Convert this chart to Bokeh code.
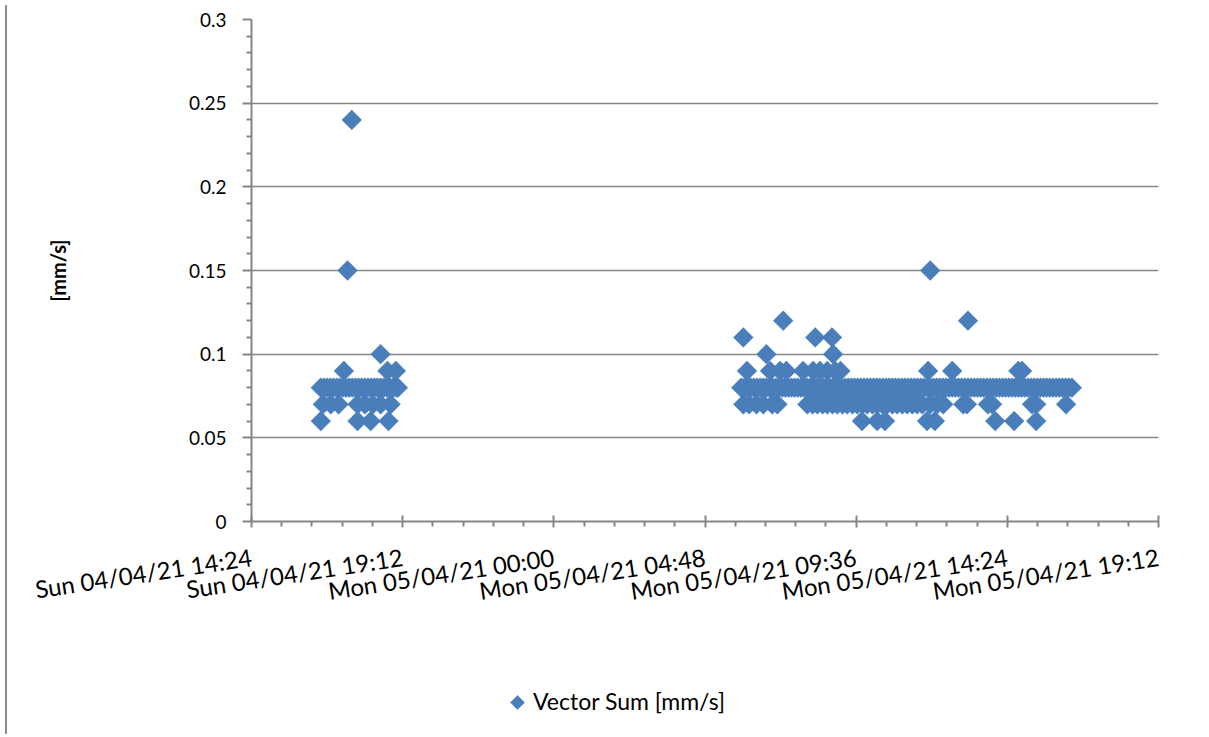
import math
import pandas as pd
from bokeh.plotting import figure
from bokeh.models import (FixedTicker, Legend, LegendItem, Div, Range1d,
                          ColumnDataSource)
from bokeh.layouts import row, column
from bokeh.embed import file_html
from bokeh.resources import INLINE

# ---------------- data ----------------
x_tick_times = ["2021-04-04 14:24", "2021-04-04 19:12", "2021-04-05 00:00",
                "2021-04-05 04:48", "2021-04-05 09:36", "2021-04-05 14:24",
                "2021-04-05 19:12"]
x_tick_labels = ["Sun 04/04/21 14:24", "Sun 04/04/21 19:12", "Mon 05/04/21 00:00",
                 "Mon 05/04/21 04:48", "Mon 05/04/21 09:36", "Mon 05/04/21 14:24",
                 "Mon 05/04/21 19:12"]
y_ticks = [0, 0.05, 0.1, 0.15, 0.2, 0.25, 0.3]
y_tick_labels = ["0", "0.05", "0.1", "0.15", "0.2", "0.25", "0.3"]
series_name = "Vector Sum [mm/s]"
y_axis_title = "[mm/s]"

sun_date = "2021-04-04"
mon_date = "2021-04-05"

# Sunday readings, grouped by value [mm/s]
sun_080 = ["16:36", "16:42", "16:48", "16:54", "17:00", "17:06", "17:12", "17:18",
           "17:24", "17:30", "17:36", "17:42", "17:48", "17:54", "18:00", "18:06",
           "18:12", "18:18", "18:24", "18:30", "18:36", "18:42", "18:48", "18:54",
           "19:00", "19:03"]
sun_070 = ["16:40", "16:55", "17:10", "17:46", "18:00", "18:15", "18:30", "18:49"]
sun_060 = ["16:36", "17:46", "18:11", "18:45"]
sun_090 = ["17:20", "18:43", "18:59"]
sun_100 = ["18:30"]
sun_150 = ["17:27"]
sun_240 = ["17:35"]

# Monday readings, grouped by value [mm/s]
mon_080 = ["05:57",
           "06:03", "06:09", "06:15", "06:21", "06:27", "06:33", "06:39", "06:45", "06:51", "06:57",
           "07:03", "07:09", "07:15", "07:21", "07:27", "07:33", "07:39", "07:45", "07:51", "07:57",
           "08:03", "08:09", "08:15", "08:21", "08:27", "08:33", "08:39", "08:45", "08:51", "08:57",
           "09:03", "09:09", "09:15", "09:21", "09:27", "09:33", "09:39", "09:45", "09:51", "09:57",
           "10:03", "10:09", "10:15", "10:21", "10:27", "10:33", "10:39", "10:45", "10:51", "10:57",
           "11:03", "11:09", "11:15", "11:21", "11:27", "11:33", "11:39", "11:45", "11:51", "11:57",
           "12:03", "12:09", "12:15", "12:21", "12:27", "12:33", "12:39", "12:45", "12:51", "12:57",
           "13:03", "13:09", "13:15", "13:21", "13:27", "13:33", "13:39", "13:45", "13:51", "13:57",
           "14:03", "14:09", "14:15", "14:21", "14:27", "14:33", "14:39", "14:45", "14:51", "14:57",
           "15:03", "15:09", "15:15", "15:21", "15:27", "15:33", "15:39", "15:45", "15:51", "15:57",
           "16:03", "16:09", "16:15", "16:21", "16:27"]
mon_070 = ["06:01", "06:12", "06:26", "06:39", "06:56", "07:06", "08:03", "08:13",
           "08:22", "08:32", "08:41", "08:51", "09:00", "09:10", "09:19", "09:29",
           "09:38", "09:48", "09:57", "10:07", "10:16", "10:26", "10:35", "10:45",
           "10:54", "11:04", "11:13", "11:23", "11:32", "11:42", "11:57", "12:10",
           "12:22", "13:00", "13:07", "13:47", "13:55", "15:11", "15:19", "16:16"]
mon_060 = ["09:47", "10:16", "10:31", "11:51", "12:06", "14:01", "14:37", "15:19"]
mon_090 = ["06:08", "06:52", "07:11", "07:23", "07:55", "08:14", "08:27", "08:41",
           "08:56", "09:06", "11:53", "12:39", "14:45", "14:52"]
mon_100 = ["06:45", "08:52"]
mon_110 = ["06:01", "08:18", "08:50"]
mon_120 = ["07:17", "13:09"]
mon_150 = ["11:57"]

groups = [
    (sun_date, 0.08, sun_080), (sun_date, 0.07, sun_070), (sun_date, 0.06, sun_060),
    (sun_date, 0.09, sun_090), (sun_date, 0.10, sun_100), (sun_date, 0.15, sun_150),
    (sun_date, 0.24, sun_240),
    (mon_date, 0.08, mon_080), (mon_date, 0.07, mon_070), (mon_date, 0.06, mon_060),
    (mon_date, 0.09, mon_090), (mon_date, 0.10, mon_100), (mon_date, 0.11, mon_110),
    (mon_date, 0.12, mon_120), (mon_date, 0.15, mon_150),
]

xs, ys = [], []
for d, v, times in groups:
    for t in times:
        xs.append(pd.Timestamp(f"{d} {t}"))
        ys.append(v)
source = ColumnDataSource(dict(x=xs, y=ys))

# ---------------- styling ----------------
FONT = "Lato"
GREY = "#868686"
BLUE = "#4A7EBB"
W = 1191
H_MAIN = 680
H_LEG = 49
FRAME_W = 907

tick_ms = [float(pd.Timestamp(t).value // 10**6) for t in x_tick_times]
minor_ms = []
for a, b in zip(tick_ms[:-1], tick_ms[1:]):
    step = (b - a) / 5
    minor_ms += [a + k * step for k in range(1, 5)]
y_minor = [round(k * 0.01, 2) for k in range(31) if k % 5]

p = figure(width=W, height=H_MAIN, x_axis_type="datetime",
           output_backend="svg", toolbar_location=None,
           x_range=Range1d(tick_ms[0], tick_ms[-1]), y_range=Range1d(0, 0.3),
           min_border_left=239, min_border_right=W - 239 - FRAME_W,
           min_border_top=19, min_border_bottom=H_MAIN - 19 - 502)
p.outline_line_color = None
p.background_fill_color = "white"
p.border_fill_color = "white"

marker_kw = dict(marker="square", angle=math.pi / 4, fill_color=BLUE,
                 line_color=BLUE, line_width=0.5)
r = p.scatter("x", "y", source=source, size=14, **marker_kw)

xa = p.xaxis[0]
xa.ticker = FixedTicker(ticks=tick_ms, minor_ticks=minor_ms)
xa.major_label_overrides = {ms: lab for ms, lab in zip(tick_ms, x_tick_labels)}
xa.major_label_orientation = 0.15
xa.axis_line_color = GREY
xa.axis_line_width = 2
xa.major_tick_line_color = GREY
xa.major_tick_line_width = 2
xa.major_tick_in = 6
xa.major_tick_out = 6
xa.minor_tick_line_color = GREY
xa.minor_tick_line_width = 2
xa.minor_tick_in = 0
xa.minor_tick_out = 5
xa.major_label_text_font = FONT
xa.major_label_text_font_size = "24px"
xa.major_label_text_color = "black"
xa.major_label_standoff = 29

ya = p.yaxis[0]
ya.ticker = FixedTicker(ticks=y_ticks, minor_ticks=y_minor)
ya.major_label_overrides = {v: lab for v, lab in zip(y_ticks, y_tick_labels)}
ya.axis_line_color = GREY
ya.axis_line_width = 2
ya.major_tick_line_color = GREY
ya.major_tick_line_width = 2
ya.major_tick_in = 0
ya.major_tick_out = 9
ya.minor_tick_line_color = GREY
ya.minor_tick_line_width = 2
ya.minor_tick_in = 0
ya.minor_tick_out = 5
ya.major_label_text_font = FONT
ya.major_label_text_font_size = "19px"
ya.major_label_text_color = "black"
ya.major_label_standoff = 16
ya.axis_label = y_axis_title
ya.axis_label_text_font = FONT
ya.axis_label_text_font_style = "bold"
ya.axis_label_text_font_size = "20px"
ya.axis_label_text_color = "black"
ya.axis_label_standoff = 116

p.xgrid.visible = False
p.ygrid.grid_line_color = GREY
p.ygrid.grid_line_width = 1.5

# legend strip below the chart (its frame is aligned with the chart's frame,
# and its ranges are in pixels of that frame)
lg = figure(width=W, height=H_LEG, output_backend="svg", toolbar_location=None,
            x_range=Range1d(0, FRAME_W), y_range=Range1d(0, H_LEG),
            x_axis_location=None, y_axis_location=None,
            min_border_left=0, min_border_right=0, min_border_top=0,
            min_border_bottom=0)
lg.outline_line_color = None
lg.xgrid.visible = False
lg.ygrid.visible = False
# transparent legend entry (keeps the label), plus the rotated-square key symbol
key = lg.scatter(x=[-50], y=[-50], size=14, marker="square",
                 fill_alpha=0, line_alpha=0)
lg.scatter(x=[266], y=[27], size=10, **marker_kw)
legend = Legend(items=[LegendItem(label=series_name, renderers=[key])],
                location=(256, 14), orientation="horizontal",
                border_line_color=None, background_fill_alpha=0,
                padding=0, margin=0, glyph_width=22, glyph_height=26,
                label_standoff=4, label_text_font=FONT,
                label_text_font_size="23px", label_text_color="black")
lg.add_layout(legend)

edge = Div(width=2, height=H_MAIN + H_LEG, styles={"background-color": "#8c8c8c"})
layout = row(edge, column(p, lg))

open("out.html", "w").write(file_html(layout, INLINE))
